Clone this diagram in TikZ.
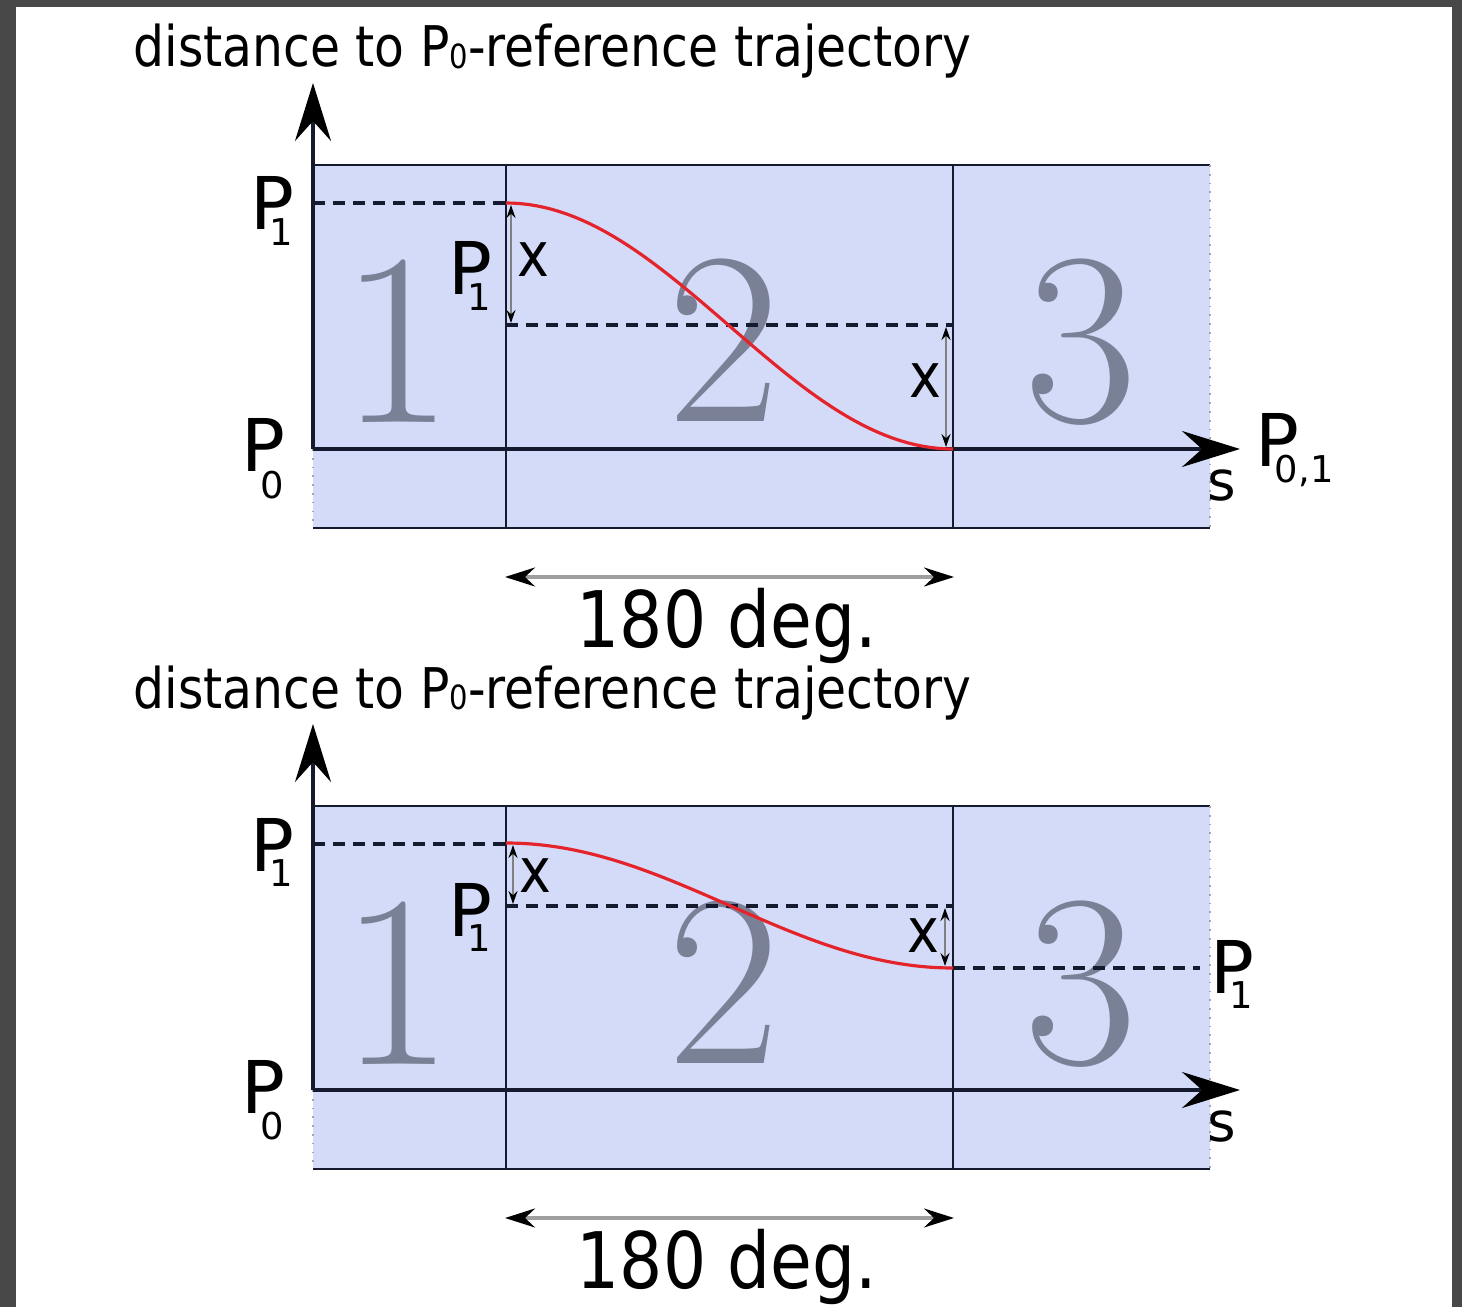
\documentclass[tikz,border=0pt]{standalone}
\usepackage{fontspec}
\setsansfont{DejaVu Sans}
\newfontfamily\narrowsans[FakeStretch=0.87]{DejaVu Sans}
\usetikzlibrary{arrows.meta}

\definecolor{framegray}{HTML}{484848}
\definecolor{panelfill}{HTML}{D3DBF8}
\definecolor{inkline}{HTML}{161A2E}
\definecolor{bignum}{HTML}{7A8196}
\definecolor{curvered}{HTML}{E4232B}

% level label: P with a dropped index tucked under it
\newcommand{\Plab}[2][4.3pt]{P\kern-7pt\raisebox{-#1}{\fontsize{10.5}{11}\selectfont #2}}

\begin{document}
\begin{tikzpicture}[x=0.1mm, y=-0.1mm,
  edge/.style={line width=0.75pt, draw=inkline},
  axis/.style={line width=0.9pt, draw=inkline, -{Stealth[length=5.8mm, width=3.6mm, inset=2mm, color=black]}},
  guide/.style={line width=1pt, draw=inkline, dash pattern=on 1.2mm off 0.8mm},
  border/.style={line width=0.5pt, draw=gray!70, dotted},
  span/.style={line width=0.9pt, draw=gray!75, >={Stealth[length=3mm, width=1.9mm, inset=1mm, color=black]}, <->},
  gap/.style={line width=0.4pt, draw=gray, >={Stealth[length=1.3mm, width=0.9mm, color=black]}, <->},
  redpath/.style={line width=0.9pt, draw=curvered},
  region/.style={font=\fontsize{70}{72}\selectfont, text=bignum, inner sep=0pt, anchor=base},
  lvl/.style={font=\fontsize{20.7}{22}\selectfont\sffamily, inner sep=0pt, anchor=base west},
  slbl/.style={font=\fontsize{15.6}{17}\selectfont\sffamily, inner sep=0pt, anchor=base west},
  xlbl/.style={font=\fontsize{17.6}{19}\selectfont\narrowsans, inner sep=0pt, anchor=base west},
  title/.style={font=\fontsize{15.95}{17}\selectfont\narrowsans, inner sep=0pt, anchor=base west},
  deglbl/.style={font=\fontsize{22.2}{24}\selectfont\narrowsans, inner sep=0pt, anchor=base}
]
  \fill[framegray] (0,0) rectangle (1462,1307);
  \fill[white] (16,7) rectangle (1452,1307);
  \useasboundingbox (0,0) rectangle (1462,1307);

  % both panels share the frame, the axes and the 180 deg. span
  \foreach \oy in {0,641} {
    \fill[panelfill] (313,{165+\oy}) rectangle (1210,{528+\oy});
    \node[region] (one\oy) at (397,{423+\oy}) {1};
    \node[region] (two\oy) at (724,{422+\oy}) {2};
    \node[region] (three\oy) at (1081,{422+\oy}) {3};
    \draw[edge] (313,{165+\oy}) -- (1210,{165+\oy});
    \draw[edge] (313,{528+\oy}) -- (1210,{528+\oy});
    \draw[edge] (506,{165+\oy}) -- (506,{528+\oy});
    \draw[edge] (953,{165+\oy}) -- (953,{528+\oy});
    \draw[border] (1210,{165+\oy}) -- (1210,{528+\oy});
    \draw[border] (313,{449+\oy}) -- (313,{528+\oy});
    \draw[guide] (313,{203+\oy}) -- (506,{203+\oy});
    \draw[axis] (313,{449+\oy}) -- (313,{83+\oy});
    \draw[axis] (313,{449+\oy}) -- (1240,{449+\oy});
    \node[title] (ttl\oy) at (133,{67+\oy}) {distance to P\raisebox{-0.5pt}{\fontsize{9.5}{10}\selectfont 0}-reference trajectory};
    \node[lvl] (pone\oy) at (250,{230+\oy}) {\Plab{1}};
    \node[lvl] (pzero\oy) at (241,{472+\oy}) {\Plab[7.4pt]{0}};
    \node[lvl] (pmid\oy) at (448,{295+\oy}) {\Plab{1}};
    \node[slbl] (s\oy) at (1207,{500+\oy}) {s};
    \draw[span] (505,{577+\oy}) -- (954,{577+\oy});
    \node[deglbl] (deg\oy) at (727,{647+\oy}) {180 deg.};
  }

  % upper panel: full shift down to P0
  \draw[guide] (506,325) -- (953,325);
  \draw[redpath] plot[domain=0:180, samples=60, variable=\t] ({506+2.4833*\t},{203+123*(1-cos(\t))});
  \draw[gap] (511,205) -- (511,323);
  \node[xlbl] (xa) at (517,277) {x};
  \draw[gap] (946,327) -- (946,447);
  \node[xlbl] (xb) at (909,398) {x};
  \node[lvl] (pend) at (1255,467) {\Plab{0,1}};

  % lower panel: half shift, stays at the new level
  \draw[guide] (506,906) -- (953,906);
  \draw[guide] (953,968) -- (1200,968);
  \draw[redpath] plot[domain=0:180, samples=60, variable=\t] ({506+2.4833*\t},{843+62.5*(1-cos(\t))});
  \draw[gap] (513,845) -- (513,904);
  \node[xlbl] (xc) at (519,892) {x};
  \draw[gap] (945,908) -- (945,966);
  \node[xlbl] (xd) at (907,952) {x};
  \node[lvl] (pnew) at (1210,993) {\Plab{1}};
\end{tikzpicture}
\end{document}
